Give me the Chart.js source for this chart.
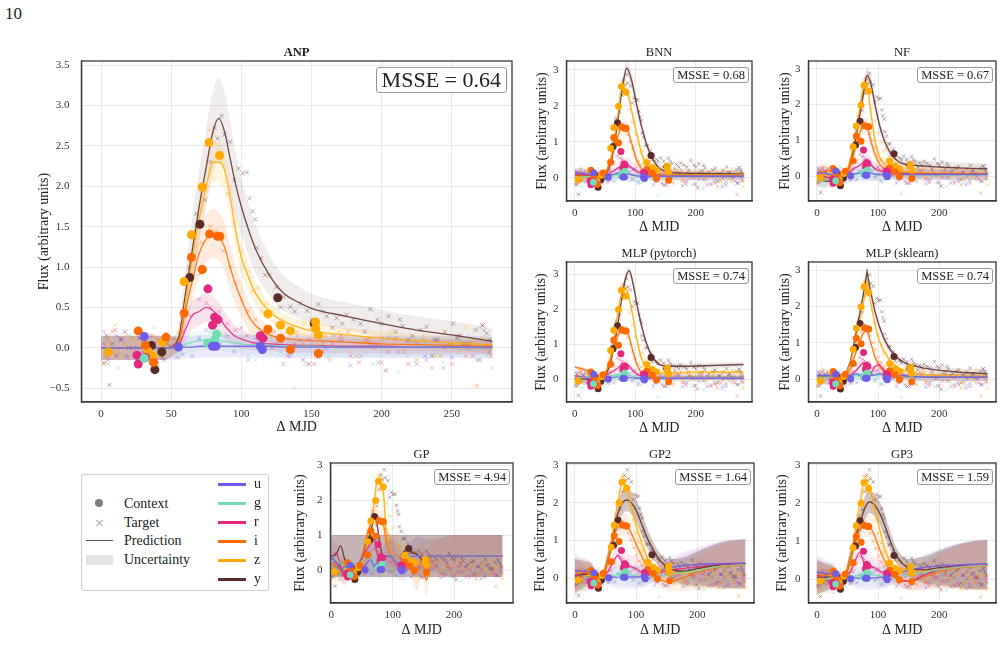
<!DOCTYPE html>
<html>
<head>
<meta charset="utf-8">
<script src="https://cdn.jsdelivr.net/npm/chart.js@4.4.1/dist/chart.umd.min.js"></script>
<style>
  body { margin: 0; background: #fff; width: 1003px; height: 662px; position: relative; overflow: hidden;
         font-family: "Liberation Serif", "DejaVu Serif", serif; color: #222; }
  canvas { position: absolute; }
  .ttl { position: absolute; font-size: 12.5px; transform: translate(-50%, -50%); white-space: nowrap; }
  .msse { position: absolute; border: 1px solid #999; border-radius: 3px; background: rgba(255,255,255,0.85);
          white-space: nowrap; text-align: center; box-sizing: border-box; }
  .lg { position: absolute; font-size: 14px; transform: translateY(-50%); white-space: nowrap; }
</style>
</head>
<body>
<div style="position:absolute;left:5px;top:4px;font-size:17px;">10</div>

<script>
// ---- shared observations (same light curve in every panel) ----
const bands = ['u', 'g', 'r', 'i', 'z', 'y'];
const bandColors = ['#6f5ce8', '#74dcb2', '#e2287f', '#ff6a00', '#ffaa00', '#5b2b28'];

// tick positions
const xTicksANP = [0, 50, 100, 150, 200, 250];
const yTicksANP = [-0.5, 0, 0.5, 1, 1.5, 2, 2.5, 3, 3.5];
const xTicksSmall = [0, 100, 200];
const yTicksSmall = [0, 1, 2, 3];

// context points [MJD, flux]
const ctxU = [[30.8,0.14],[55.2,0.01],[79.5,0.02],[81.9,0.02],[113.6,0.02],[115,-0.02]];
const ctxG = [[30.8,-0.13],[76,0.06],[81,0.1],[82.4,0.17]];
const ctxR = [[25.6,-0.09],[26.5,-0.2],[31.7,-0.12],[76.2,0.73],[79.5,0.28],[81,0.38],[83.3,0.35],[113.6,0.15],[115.5,0.12]];
const ctxI = [[26.5,0.21],[31.5,0.03],[37.4,-0.18],[46.4,0.13],[59.2,0.43],[64.4,1.12],[72.2,0.97],[77.4,1.41],[83,1.38],[84.8,1.38],[119,0.23],[128,0.12],[135,-0.02],[155,-0.07]];
const ctxZ = [[5.4,-0.05],[33.6,-0.04],[36.7,-0.1],[43.8,0.07],[59.2,0.82],[64.4,1.4],[72.2,1.99],[77,2.54],[84.5,2.38],[119,0.42],[128,0.28],[135,0.21],[153,0.32],[153,0.24],[155,0.16]];
const ctxY = [[36,0.03],[38.4,-0.27],[43.3,-0.05],[63.2,0.87],[70.5,1.53],[126,0.62],[152,0.3]];

// target points [MJD, flux]
const tgtU = [[2,0.2],[4,-0.1],[8,-0.05],[11,0.15],[15,0.1],[19,-0.12],[25,0],[31,0.18],[35,0.05],[41,0.1],[45,-0.15],[55,0.05],[58,-0.08],[65,-0.1],[70,0.12],[75,0.22],[85,0.05],[90,0.15],[95,-0.05],[105,-0.15],[110,0.12],[115,0],[125,0.05],[130,-0.2],[135,-0.1],[142,0.1],[148,-0.2],[155,-0.12],[160,0],[166,0.15],[172,0.1],[178,-0.22],[185,-0.1],[192,0.05],[198,-0.18],[205,0.12],[212,-0.05],[218,0.08],[225,-0.2],[231,-0.1],[238,0.1],[244,-0.25],[250,-0.12],[256,0.15],[262,0],[268,-0.15],[273,0.22],[278,0.05]];
const tgtG = [[2,0.1],[5,-0.2],[9,0.05],[12,-0.25],[16,-0.08],[20,0.15],[24,0.2],[28,-0.12],[33,0.02],[38,0.25],[44,0.12],[48,-0.05],[55,-0.1],[60,0.05],[65,0.02],[70,0.1],[78,0.2],[86,0.15],[95,0],[100,0.05],[105,-0.1],[110,-0.15],[115,0.1],[122,0.15],[128,-0.05],[134,0.08],[138,-0.5],[145,-0.2],[150,0.05],[157,0.12],[162,-0.1],[168,-0.02],[175,0.15],[182,0.1],[188,-0.05],[194,-0.2],[200,0],[206,0.15],[212,-0.3],[218,-0.1],[225,0.1],[231,0.05],[238,-0.05],[244,-0.18],[250,0],[256,0.1],[262,0.15],[270,0.25],[275,-0.1]];
const tgtR = [[2,0.05],[5,-0.15],[10,0.22],[14,0.12],[18,-0.1],[23,0],[30,-0.05],[35,0.15],[40,-0.15],[45,0.08],[50,0],[54,-0.12],[58,0.2],[64,0.4],[70,0.6],[75,0.55],[78,0.5],[84,0.45],[90,0.3],[96,0.22],[100,0.25],[104,0.15],[108,0.05],[112,0.1],[117,0.15],[122,0],[127,0.12],[133,-0.1],[138,0.05],[144,-0.15],[148,0.1],[152,-0.2],[158,-0.05],[165,0.05],[171,0.15],[178,-0.1],[184,-0.18],[190,0.1],[196,0.05],[205,-0.05],[210,0.12],[219,-0.2],[225,0.05],[232,-0.15],[238,0.1],[245,0],[250,-0.2],[256,0.15],[260,0.05],[265,-0.1],[272,0.28],[277,-0.05]];
const tgtI = [[2,-0.2],[5,0.1],[8,0.2],[12,-0.05],[17,0.05],[22,0.12],[27,-0.1],[32,0.1],[37,0.15],[42,-0.1],[47,0.18],[52,0.05],[57,0.3],[60,0.5],[66,0.9],[72,1.3],[78,1.5],[82,1.45],[87,1.2],[92,1],[96,0.8],[100,0.6],[105,0.45],[110,0.35],[114,0.15],[118,0.25],[123,0.2],[128,0.1],[134,-0.05],[140,0.15],[144,0.05],[148,-0.2],[153,0.15],[158,0.05],[163,-0.15],[170,0.1],[176,0.2],[182,-0.1],[188,0.1],[195,0],[200,-0.18],[210,0.1],[216,-0.05],[225,-0.15],[230,0.1],[236,-0.25],[242,-0.1],[248,0.05],[254,0.15],[260,-0.1],[264,0.05],[268,-0.47],[275,0.05],[278,-0.1]];
const tgtZ = [[3,-0.1],[6,0.05],[10,0.28],[14,-0.1],[18,0.15],[21,0.1],[25,0.05],[30,0.2],[35,0],[40,0.1],[45,-0.05],[50,0.1],[55,0.2],[62,0.9],[67,1.4],[72,2],[77,2.7],[80,2.65],[85,2.3],[90,1.9],[95,1.55],[100,1.2],[105,0.95],[108,0.7],[112,0.75],[115,0.45],[118,0.55],[122,0.45],[125,0.3],[130,0.35],[135,0.25],[140,0.2],[145,0.3],[150,0.25],[155,0.05],[160,0.15],[165,0.1],[170,0.2],[178,-0.05],[185,0.05],[192,0.1],[200,0.12],[207,0.2],[215,0],[222,0.05],[230,0.15],[238,-0.1],[245,0.2],[250,0.05],[255,-0.05],[260,0.25],[265,0.1],[272,0.12],[279,-0.25]];
const tgtY = [[2,-0.18],[4,0.15],[6,-0.46],[8,0.05],[11,-0.1],[14,0.1],[17,0.2],[20,0],[24,-0.08],[27,0.12],[30,0.1],[33,-0.05],[37,0.05],[40,-0.2],[44,-0.12],[47,0.05],[50,0.02],[52,0.12],[58,0.4],[63,1],[68,1.66],[71,0.92],[74,1.83],[78,2.3],[81,2.72],[83,2.59],[86,2.87],[88,2.64],[92,2.55],[95,2.08],[98,2.22],[101,2.16],[104,2.17],[106,1.85],[108,1.69],[110,1.59],[111,1.24],[114,1.11],[117,0.9],[120,0.9],[125,0.75],[128,0.5],[130,0.63],[135,0.51],[138,0.45],[142,0.55],[147,0.46],[150,0.35],[155,0.54],[158,0.45],[161,0.39],[165,0.25],[168,0.37],[172,0.3],[175,0.41],[180,0.35],[185,0.3],[188,0.2],[192,0.48],[197,0.35],[200,0.3],[203,-0.28],[205,0.39],[210,0.2],[213,0.35],[215,0.27],[219,0.1],[222,0.15],[228,0.22],[232,0.26],[236,-0.1],[240,0.1],[245,0.2],[251,0.3],[254,0.12],[258,0.05],[262,0.05],[267,0.22],[270,-0.15],[272,0.28],[275,0.18],[277,0.1]];

// ---- ANP ----
const xANP = [0,45,52,56,60,65,70,75,80,84,88,92,96,100,105,110,120,130,140,150,175,200,225,250,279];
const anpU = [0,0,0,0,0.01,0.01,0.02,0.02,0.02,0.02,0.02,0.02,0.02,0.02,0.02,0.02,0.02,0.01,0.01,0.01,0.01,0.01,0.01,0.01,0.01];
const anpG = [0,0,0,0.01,0.04,0.07,0.09,0.1,0.1,0.09,0.08,0.07,0.06,0.05,0.04,0.04,0.03,0.02,0.02,0.02,0.01,0.01,0.01,0.01,0];
const anpR = [0,0,0.01,0.05,0.22,0.4,0.45,0.5,0.46,0.38,0.28,0.2,0.14,0.11,0.08,0.06,0.05,0.04,0.03,0.03,0.02,0.02,0.01,0.01,0];
const anpI = [0,0,0.02,0.1,0.45,0.82,1.17,1.35,1.42,1.38,1.25,1.0,0.78,0.6,0.4,0.28,0.16,0.12,0.1,0.09,0.07,0.05,0.04,0.03,0.02];
const anpZ = [0,0,0.02,0.1,0.55,1.1,1.6,2.0,2.3,2.3,2.2,1.87,1.45,1.12,0.88,0.68,0.45,0.33,0.26,0.21,0.16,0.12,0.09,0.06,0.04];
const anpY = [0,0,0.03,0.18,0.65,1.2,1.75,2.24,2.69,2.84,2.68,2.35,2.02,1.75,1.47,1.23,0.9,0.68,0.57,0.49,0.39,0.3,0.22,0.16,0.08];
const anpSigU = [0.15,0.15,0.14,0.14,0.14,0.14,0.14,0.14,0.14,0.14,0.14,0.14,0.14,0.14,0.14,0.14,0.14,0.14,0.14,0.14,0.14,0.14,0.14,0.14,0.14];
const anpSigG = [0.15,0.15,0.12,0.12,0.12,0.12,0.12,0.12,0.12,0.12,0.12,0.12,0.12,0.12,0.12,0.12,0.12,0.12,0.12,0.12,0.12,0.12,0.12,0.12,0.12];
const anpSigR = [0.15,0.15,0.1,0.1,0.15,0.18,0.18,0.18,0.18,0.18,0.17,0.15,0.13,0.12,0.1,0.1,0.09,0.09,0.09,0.09,0.09,0.09,0.09,0.09,0.09];
const anpSigI = [0.15,0.15,0.1,0.1,0.2,0.25,0.28,0.3,0.3,0.3,0.3,0.28,0.25,0.22,0.18,0.14,0.1,0.08,0.08,0.08,0.08,0.08,0.08,0.08,0.08];
const anpSigZ = [0.15,0.15,0.1,0.12,0.2,0.25,0.25,0.25,0.25,0.25,0.25,0.25,0.22,0.2,0.18,0.15,0.12,0.1,0.1,0.1,0.09,0.09,0.08,0.08,0.08];
const anpSigY = [0.15,0.15,0.12,0.15,0.3,0.4,0.45,0.48,0.5,0.5,0.48,0.45,0.4,0.35,0.32,0.3,0.25,0.22,0.2,0.18,0.17,0.17,0.17,0.17,0.17];
const anpBandAlpha = [0.13, 0.13, 0.13, 0.13, 0.13, 0.09];

// ---- BNN ----
const xBNN = [0,20,40,50,60,70,78,86,94,102,110,120,130,140,160,200,240,279];
const bnnU = [0.15,0.1,0.05,0.12,0.08,0.12,0.15,0.12,0.08,0.05,0.04,0.04,0.04,0.04,0.04,0.04,0.04,0.04];
const bnnG = [0.02,0.03,0.04,0.05,0.07,0.09,0.1,0.1,0.08,0.06,0.05,0.05,0.04,0.04,0.04,0.04,0.04,0.04];
const bnnR = [0.1,0.08,0.05,0.08,0.15,0.25,0.33,0.35,0.28,0.18,0.12,0.09,0.08,0.07,0.06,0.05,0.05,0.05];
const bnnI = [0.05,0.05,0.05,0.1,0.5,1.1,1.38,1.35,0.95,0.5,0.25,0.12,0.08,0.07,0.07,0.07,0.07,0.07];
const bnnZ = [0.02,0.02,0.03,0.12,0.6,1.6,2.5,2.45,1.85,1.25,0.7,0.3,0.15,0.1,0.08,0.08,0.08,0.08];
const bnnY = [0.05,0.04,0.04,0.1,0.45,1.45,2.45,3.05,2.7,2.05,1.45,0.86,0.49,0.26,0.14,0.12,0.11,0.1];
const bnnSig = [0.12,0.12,0.12,0.12,0.15,0.18,0.2,0.2,0.2,0.18,0.15,0.12,0.12,0.12,0.12,0.12,0.12,0.12];

// ---- NF ----
const xNF = [0,20,40,50,60,70,76,82,88,95,102,110,120,130,140,160,200,240,279];
const nfU = [0.1,0.05,0,0.02,0.05,0.08,0.1,0.1,0.08,0.05,0.04,0.04,0.04,0.04,0.04,0.04,0.04,0.04,0.04];
const nfG = [-0.15,-0.1,-0.05,0,0.05,0.1,0.12,0.12,0.08,0.05,0.04,0.05,0.05,0.04,0.04,0.03,0.03,0.03,0.03];
const nfR = [0.05,-0.05,-0.1,0.05,0.2,0.3,0.38,0.4,0.32,0.2,0.15,0.12,0.1,0.08,0.07,0.05,0.05,0.05,0.05];
const nfI = [0.1,0.15,0,0.15,0.6,1.2,1.4,1.35,1.0,0.6,0.35,0.2,0.12,0.1,0.08,0.08,0.06,0.06,0.05];
const nfZ = [0.05,0,-0.05,0.2,0.9,1.9,2.5,2.55,1.8,1.0,0.55,0.35,0.22,0.15,0.12,0.1,0.08,0.08,0.06];
const nfY = [-0.1,-0.15,-0.15,0.1,0.75,1.7,2.3,2.82,2.6,2.0,1.45,1.0,0.65,0.45,0.35,0.3,0.25,0.22,0.2];
const nfSig = [0.2,0.18,0.15,0.15,0.2,0.22,0.25,0.25,0.22,0.2,0.18,0.16,0.15,0.15,0.15,0.15,0.15,0.15,0.15];

// ---- MLP (pytorch) ----
const xMLP = [0,20,40,50,60,70,78,84,90,96,102,110,120,130,140,160,200,240,279];
const mlpU = [0.02,0.02,0.03,0.04,0.05,0.06,0.06,0.06,0.05,0.04,0.03,0.03,0.03,0.03,0.03,0.03,0.03,0.03,0.03];
const mlpG = [0.05,0.05,0.05,0.08,0.1,0.12,0.15,0.15,0.12,0.08,0.06,0.05,0.05,0.05,0.05,0.05,0.05,0.05,0.05];
const mlpR = [0.1,0.05,0.05,0.1,0.2,0.3,0.42,0.45,0.38,0.25,0.15,0.1,0.08,0.06,0.05,0.05,0.05,0.05,0.05];
const mlpI = [0.35,0.25,0.05,0.15,0.6,1.2,1.4,1.4,1.2,0.8,0.45,0.2,0.1,0.06,0.05,0.05,0.05,0.05,0.05];
const mlpZ = [0,0.02,0.02,0.15,0.75,1.8,2.5,2.6,2.3,1.8,1.2,0.6,0.3,0.2,0.18,0.18,0.2,0.2,0.2];
const mlpY = [0,0,0,0.1,0.55,1.45,2.35,2.9,3.1,2.75,2.2,1.55,0.95,0.6,0.42,0.37,0.38,0.4,0.42];
const mlpSig = [0.08,0.08,0.08,0.08,0.1,0.1,0.1,0.12,0.12,0.12,0.1,0.1,0.08,0.08,0.08,0.08,0.08,0.08,0.08];

// ---- MLP (sklearn) ----
const xSKL = [0,20,45,55,65,75,82,88,95,102,110,120,130,140,150,175,200,240,279];
const sklU = [0.1,0.1,0.05,0.1,0.15,0.05,0.05,0.1,0.12,0.15,0.1,0.05,0.1,0.12,0.08,0.05,0.05,0.05,0.05];
const sklG = [0.05,0.05,0.05,0.08,0.1,0.15,0.15,0.1,0.1,0.12,0.15,0.2,0.1,0.06,0.05,0.05,0.05,0.05,0.05];
const sklR = [0.05,0.05,0.05,0.1,0.25,0.45,0.3,0.15,0.35,0.4,0.25,0.1,0.07,0.05,0.05,0.05,0.05,0.05,0.05];
const sklI = [0.05,0.05,0.05,0.3,0.8,1.25,1.35,1.0,0.6,0.35,0.2,0.12,0.1,0.08,0.07,0.06,0.05,0.05,0.05];
const sklZ = [0.05,0.05,0.05,0.45,1.2,2.0,2.65,2.1,1.5,1.05,0.75,0.5,0.35,0.25,0.2,0.12,0.1,0.08,0.07];
const sklY = [0.05,0.05,0.05,0.5,1.35,2.25,2.95,2.4,1.85,1.45,1.1,0.8,0.6,0.48,0.4,0.3,0.24,0.18,0.15];
const sklSig = [0.1,0.1,0.1,0.1,0.12,0.12,0.12,0.12,0.12,0.12,0.1,0.1,0.1,0.1,0.1,0.1,0.1,0.1,0.1];

// ---- GP ----
const xGP = [0,8,15,22,30,37,45,52,58,64,70,74,78,84,90,100,110,120,126,132,140,148,155,162,175,200,240,279];
const gpU = [0.4,0.2,0,0.1,0.05,0,0.1,0.05,0.2,0.3,0.1,0.2,0.05,0.3,0.4,0.35,0.1,0,0.3,0.4,0.4,0.4,0.4,0.4,0.4,0.4,0.4,0.4];
const gpG = [0.4,0.3,0.2,0,-0.1,0.1,0.2,0.3,0.5,0.4,0.2,0.3,0,0.2,0.4,0.4,0.4,0.4,0.4,0.4,0.4,0.4,0.4,0.4,0.4,0.4,0.4,0.4];
const gpR = [0.3,0.5,0.1,-0.2,-0.1,0,0.2,0.4,0.6,0.75,0.9,0.5,0.35,0.3,0.4,0.4,0.4,0.15,0.3,0.4,0.4,0.4,0.4,0.4,0.4,0.4,0.4,0.4];
const gpI = [0.2,0.1,0.05,-0.15,0,-0.1,0.1,0.5,1.0,1.3,1.55,1.45,1.4,1.35,0.8,0.4,0.4,0.4,0.4,0.2,0,0.3,-0.3,0.4,0.4,0.4,0.4,0.4];
const gpZ = [0,-0.05,0,0.05,0,-0.05,0.1,0.3,0.8,1.3,1.95,2.5,2.55,2.35,1.0,0.4,0.4,0.4,0.35,0.2,0.15,0.3,0.35,0.4,0.4,0.4,0.4,0.4];
const gpY = [0.4,0.45,0.7,0.3,0.1,-0.25,0,0.45,0.85,1.05,1.5,1.35,0.9,0.4,0.4,0.4,0.4,0.55,0.6,0.5,0.45,0.3,0.35,0.4,0.4,0.4,0.4,0.4];
const gpSig = [0.5,0.3,0.35,0.25,0.15,0.1,0.15,0.2,0.3,0.35,0.3,0.3,0.3,0.35,0.45,0.5,0.35,0.3,0.3,0.45,0.55,0.5,0.5,0.45,0.5,0.6,0.6,0.6];
const gpBoxX = [0, 279];
const gpBoxLo = [-0.2, -0.2];
const gpBoxHi = [1.0, 1.0];

// ---- GP2 ----
const xGP2 = [0,15,28,38,46,55,62,70,78,85,92,100,110,120,130,140,155,175,200,225,250,279];
const gp2U = [0.2,0.18,0.15,0.1,0.05,0.03,0.03,0.02,0.02,0.02,0.03,0.03,0.05,0.08,0.15,0.2,0.28,0.33,0.36,0.38,0.39,0.4];
const gp2G = [0,0,0,0,0,0.05,0.08,0.1,0.1,0.1,0.08,0.06,0.05,0.05,0.05,0.05,0.1,0.15,0.2,0.28,0.33,0.36];
const gp2R = [0.1,0,-0.1,-0.15,0.05,0.2,0.4,0.6,0.4,0.35,0.3,0.25,0.15,0.1,0.1,0.15,0.2,0.25,0.3,0.35,0.38,0.38];
const gp2I = [0.1,0.15,0.15,-0.15,0.05,0.5,1.0,1.35,1.4,1.38,1.2,0.9,0.55,0.25,0.05,-0.05,-0.1,0,0.15,0.25,0.32,0.35];
const gp2Z = [-0.05,0.05,0.1,-0.1,0.1,0.6,1.2,2.0,2.55,2.4,1.9,1.4,0.9,0.5,0.3,0.2,0.15,0.12,0.2,0.28,0.33,0.36];
const gp2Y = [0.05,0.1,0.1,-0.2,0.05,0.6,1.05,1.7,2.0,2.07,2.0,1.8,1.4,1.0,0.7,0.45,0.25,0.18,0.25,0.32,0.36,0.38];
const gp2Sig = [0.45,0.35,0.25,0.1,0.15,0.2,0.25,0.3,0.3,0.3,0.3,0.3,0.3,0.25,0.2,0.2,0.25,0.35,0.45,0.55,0.62,0.65];

// ---- GP3 ----
const xGP3 = [0,15,28,38,46,55,62,70,78,86,94,102,110,120,130,140,155,175,200,225,250,279];
const gp3U = [0.18,0.15,0.12,0.08,0.05,0.03,0.03,0.02,0.02,0.02,0.03,0.04,0.05,0.08,0.12,0.18,0.25,0.3,0.35,0.37,0.39,0.4];
const gp3G = [0,0,0,0,0.02,0.05,0.08,0.1,0.12,0.12,0.1,0.08,0.06,0.05,0.05,0.08,0.12,0.18,0.25,0.3,0.34,0.36];
const gp3R = [0.1,0,-0.15,-0.1,0.05,0.2,0.45,0.7,0.4,0.35,0.3,0.22,0.15,0.1,0.05,-0.05,-0.05,0.1,0.25,0.32,0.36,0.38];
const gp3I = [0.1,0.1,0.15,-0.2,0.05,0.45,0.95,1.3,1.4,1.38,1.15,0.8,0.5,0.2,0,-0.05,-0.05,0.05,0.2,0.28,0.32,0.35];
const gp3Z = [-0.05,0,0.05,-0.1,0.1,0.6,1.2,1.95,2.55,2.4,1.9,1.35,0.85,0.45,0.3,0.28,0.22,0.2,0.25,0.3,0.34,0.36];
const gp3Y = [0.04,0.05,0.05,-0.25,0.05,0.6,1.05,1.45,1.85,2.03,1.95,1.75,1.45,1.0,0.62,0.4,0.28,0.24,0.3,0.34,0.36,0.38];
const gp3Sig = [0.45,0.35,0.25,0.1,0.15,0.2,0.25,0.3,0.3,0.3,0.3,0.3,0.3,0.25,0.2,0.2,0.25,0.35,0.45,0.55,0.62,0.65];

// band opacity per filter in the small panels
const smallBandAlpha = [0.1, 0.1, 0.1, 0.1, 0.1, 0.1];
const gpBandAlpha = [0.1, 0.1, 0.1, 0.1, 0.1, 0.28];

const FONT = '"Liberation Serif", "DejaVu Serif", serif';
Chart.defaults.font.family = FONT;
Chart.defaults.color = '#333';

const ctxSets = [ctxU, ctxG, ctxR, ctxI, ctxZ, ctxY];
const tgtSets = [tgtU, tgtG, tgtR, tgtI, tgtZ, tgtY];

function rgba(hex, a) {
  const n = parseInt(hex.slice(1), 16);
  return `rgba(${(n >> 16) & 255},${(n >> 8) & 255},${n & 255},${a})`;
}
const pairs = (arr) => arr.map(p => ({ x: p[0], y: p[1] }));
const pts = (xs, ys) => xs.map((x, k) => ({ x, y: ys[k] }));

function addText(cls, text, x, y, extra) {
  const d = document.createElement('div');
  d.className = cls;
  d.textContent = text;
  d.style.left = x + 'px';
  d.style.top = y + 'px';
  if (extra) Object.assign(d.style, extra);
  document.body.appendChild(d);
  return d;
}

function panel(p) {
  const [pl, pt, pr, pb] = p.plot;
  const lh = 14 * 1.2;
  const cl = p.yTitleX - lh / 2;
  const ct = pt - 8;
  const cr = pr + 6;
  const cb = p.xTitleY + lh / 2;
  const canvas = document.createElement('canvas');
  canvas.width = Math.round(cr - cl);
  canvas.height = Math.round(cb - ct);
  canvas.style.left = cl + 'px';
  canvas.style.top = ct + 'px';
  document.body.appendChild(canvas);
  const yw = pl - cl;
  const xh = canvas.height - (pb - ct);

  const datasets = [];
  // uncertainty bands
  p.bandsLo.forEach((b) => {
    datasets.push({ type: 'line', data: pts(b.xs, b.lo), borderWidth: 0, pointRadius: 0, fill: false,
      cubicInterpolationMode: 'monotone', order: 4 });
    datasets.push({ type: 'line', data: pts(b.xs, b.hi), borderWidth: 0, pointRadius: 0, fill: '-1',
      backgroundColor: rgba(b.color, b.alpha), cubicInterpolationMode: 'monotone', order: 4 });
  });
  // target crosses
  tgtSets.forEach((t, k) => {
    datasets.push({ type: 'scatter', data: pairs(t), pointStyle: 'crossRot', pointRadius: p.crossR,
      borderColor: rgba(bandColors[k], 0.4), borderWidth: 1, backgroundColor: 'transparent', order: 3 });
  });
  // predictions
  p.curves.forEach((ys, k) => {
    datasets.push({ type: 'line', data: pts(p.xs, ys), borderColor: rgba(bandColors[k], 0.85),
      borderWidth: p.lineW, pointRadius: 0, fill: false,
      cubicInterpolationMode: p.straight ? 'default' : 'monotone', tension: 0, order: 2 });
  });
  // context points
  ctxSets.forEach((c, k) => {
    datasets.push({ type: 'scatter', data: pairs(c), pointRadius: p.dotR, backgroundColor: bandColors[k],
      borderWidth: 0, order: 1 });
  });

  const tickFont = { family: FONT, size: 11 };
  new Chart(canvas, {
    type: 'scatter',
    data: { datasets },
    options: {
      responsive: false,
      animation: false,
      events: [],
      layout: { padding: { top: 8, right: 6, left: 0, bottom: 0 } },
      plugins: { legend: { display: false }, tooltip: { enabled: false }, filler: { drawTime: 'beforeDatasetsDraw' } },
      scales: {
        x: {
          type: 'linear', min: p.xr[0], max: p.xr[1],
          afterBuildTicks(s) { s.ticks = p.xTicks.map(v => ({ value: v })); },
          afterFit(s) { s.height = xh; s.paddingLeft = 0; s.paddingRight = 0; },
          ticks: { padding: 6, font: tickFont, color: '#333', maxRotation: 0, autoSkip: false },
          grid: { color: '#e4e4e4', lineWidth: 0.8, drawTicks: false },
          border: { color: '#3a3a3a', width: 1.3 },
          title: { display: true, text: 'Δ MJD', font: { family: FONT, size: 14 }, color: '#222', padding: 0 }
        },
        y: {
          type: 'linear', min: p.yr[0], max: p.yr[1],
          afterBuildTicks(s) { s.ticks = p.yTicks.map(v => ({ value: v })); },
          afterFit(s) { s.width = yw; s.paddingTop = 0; s.paddingBottom = 0; },
          ticks: { padding: p.yPad, font: tickFont, color: '#333', autoSkip: false,
                   callback: (v) => (p.yDec ? v.toFixed(1) : String(Math.round(v))).replace('-', '\u2212') },
          grid: { color: '#e4e4e4', lineWidth: 0.8, drawTicks: false },
          border: { color: '#3a3a3a', width: 1.3 },
          title: { display: true, text: 'Flux (arbitrary units)', font: { family: FONT, size: 14 }, color: '#222',
                   padding: 0 }
        }
      }
    },
    plugins: [{
      id: 'frame',
      afterDraw(chart) {
        const a = chart.chartArea, c = chart.ctx;
        c.save();
        c.strokeStyle = '#3a3a3a';
        c.lineWidth = 1.3;
        c.strokeRect(a.left, a.top, a.right - a.left, a.bottom - a.top);
        c.restore();
      }
    }]
  });

  addText('ttl', p.title, (pl + pr) / 2, p.titleY, p.bold ? { fontWeight: 'bold' } : null);
  const big = p.msseBig;
  addText('msse', p.msse, 0, pt + 6, {
    fontSize: big ? '22px' : '12.5px',
    height: big ? '26px' : '16px',
    lineHeight: big ? '24px' : '14px',
    padding: big ? '0 5px' : '0 3px',
    left: 'auto',
    right: (1003 - pr + (big ? 5 : 3)) + 'px'
  });
}

function sigBands(xs, curves, sigs, alphas) {
  return curves.map((ys, k) => ({
    xs, color: bandColors[k], alpha: alphas[k],
    lo: ys.map((v, j) => v - sigs[k][j]),
    hi: ys.map((v, j) => v + sigs[k][j])
  }));
}

const anpCurves = [anpU, anpG, anpR, anpI, anpZ, anpY];
panel({
  plot: [81, 61, 512, 402], xr: [-14, 293], yr: [-0.67, 3.55], xTicks: xTicksANP, yTicks: yTicksANP, yDec: true,
  yPad: 12, yTitleX: 44, xTitleY: 428, title: 'ANP', bold: true, titleY: 52, msse: 'MSSE = 0.64', msseBig: true,
  xs: xANP, curves: anpCurves, lineW: 1.3, dotR: 4.5, crossR: 3,
  bandsLo: sigBands(xANP, anpCurves, [anpSigU, anpSigG, anpSigR, anpSigI, anpSigZ, anpSigY], anpBandAlpha)
});

const smallPanels = [
  { plot: [566, 61, 752, 201], yr: [-0.65, 3.25], yTitleX: 542, xTitleY: 228, title: 'BNN', titleY: 52,
    msse: 'MSSE = 0.68', xs: xBNN, curves: [bnnU, bnnG, bnnR, bnnI, bnnZ, bnnY], sig: bnnSig },
  { plot: [808, 61, 996, 201], yr: [-0.70, 3.22], yTitleX: 785, xTitleY: 228, title: 'NF', titleY: 52,
    msse: 'MSSE = 0.67', xs: xNF, curves: [nfU, nfG, nfR, nfI, nfZ, nfY], sig: nfSig },
  { plot: [566, 262, 752, 402], yr: [-0.65, 3.35], yTitleX: 541, xTitleY: 429, title: 'MLP (pytorch)', titleY: 253,
    msse: 'MSSE = 0.74', xs: xMLP, curves: [mlpU, mlpG, mlpR, mlpI, mlpZ, mlpY], sig: mlpSig },
  { plot: [808, 262, 996, 402], yr: [-0.63, 3.22], yTitleX: 785, xTitleY: 429, title: 'MLP (sklearn)', titleY: 253,
    msse: 'MSSE = 0.74', xs: xSKL, curves: [sklU, sklG, sklR, sklI, sklZ, sklY], sig: sklSig, straight: true },
  { plot: [330, 463, 513, 603], xr: [-1.5, 296], yr: [-0.94, 3.06], yTitleX: 300, xTitleY: 631,
    title: 'GP', titleY: 454, msse: 'MSSE = 4.94', xs: xGP, curves: [gpU, gpG, gpR, gpI, gpZ, gpY], sig: gpSig, box: true },
  { plot: [566, 463, 754, 603], yr: [-0.66, 3.05], yTitleX: 540, xTitleY: 631, title: 'GP2', titleY: 454,
    msse: 'MSSE = 1.64', xs: xGP2, curves: [gp2U, gp2G, gp2R, gp2I, gp2Z, gp2Y], sig: gp2Sig, alphas: gpBandAlpha },
  { plot: [808, 463, 996, 603], yr: [-0.63, 3.05], yTitleX: 782, xTitleY: 631, title: 'GP3', titleY: 454,
    msse: 'MSSE = 1.59', xs: xGP3, curves: [gp3U, gp3G, gp3R, gp3I, gp3Z, gp3Y], sig: gp3Sig, alphas: gpBandAlpha }
];

smallPanels.forEach((s) => {
  let bandList = sigBands(s.xs, s.curves, s.curves.map(() => s.sig), s.alphas || smallBandAlpha);
  if (s.box) {
    bandList = bandList.slice(0, 5);
    bandList.push({ xs: gpBoxX, lo: gpBoxLo, hi: gpBoxHi, color: bandColors[5], alpha: 0.35 });
  }
  panel(Object.assign({ xr: [-14, 293], xTicks: xTicksSmall, yTicks: yTicksSmall, yPad: 8, lineW: 1.4,
                        dotR: 3.5, crossR: 2.5, bandsLo: bandList }, s));
});

// ---- legend ----
const lg = document.createElement('div');
Object.assign(lg.style, { position: 'absolute', left: '81px', top: '474px', width: '188px', height: '117px',
  border: '1px solid #d0d0d0', borderRadius: '3px', boxSizing: 'border-box', background: '#fff' });
document.body.appendChild(lg);

const legendRows = [504, 523, 541, 560];
['Context', 'Target', 'Prediction', 'Uncertainty'].forEach((t, k) => addText('lg', t, 124, legendRows[k]));
const mk = (style) => { const d = document.createElement('div'); Object.assign(d.style, { position: 'absolute' }, style); document.body.appendChild(d); };
mk({ left: '95px', top: '499px', width: '8px', height: '8px', borderRadius: '50%', background: '#7f7f7f' });
addText('lg', '\u00d7', 94, 522, { color: '#b0b0b0', fontFamily: '"DejaVu Sans", sans-serif', fontSize: '13px' });
mk({ left: '86px', top: '540px', width: '27px', height: '1.2px', background: '#555' });
mk({ left: '86px', top: '555px', width: '27px', height: '10px', background: '#e4e4e4' });

const legendBandRows = [484, 503, 522, 541, 560, 579];
bands.forEach((b, k) => {
  mk({ left: '218px', top: (legendBandRows[k] - 1.5) + 'px', width: '28px', height: '3px', background: bandColors[k] });
  addText('lg', b, 254, legendBandRows[k]);
});
</script>
</body>
</html>
